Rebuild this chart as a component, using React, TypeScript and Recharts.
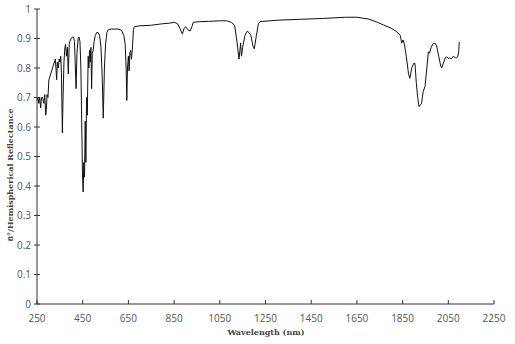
import React from "react";
import { LineChart, Line, XAxis, YAxis } from "recharts";

const wavelengths = [
  250, 254, 258, 262, 266, 270, 275, 280, 284, 288, 291, 294, 298, 302, 310, 318, 326, 330, 333, 336,
  339, 343, 347, 351, 354, 357, 361, 364, 368, 372, 375, 379, 383, 387, 391, 394, 400, 405, 410, 414,
  418, 421, 425, 430, 434, 438, 442, 446, 449, 452, 455, 458, 461, 464, 467, 470, 474, 477, 480, 483,
  486, 489, 492, 496, 500, 505, 511, 518, 524, 530, 535, 540, 545, 550, 556, 562, 575, 590, 605, 620,
  630, 636, 640, 643, 646, 650, 653, 656, 660, 663, 667, 672, 676, 700, 750, 800, 830, 850, 865, 875,
  886, 894, 901, 910, 920, 928, 934, 960, 1000, 1050, 1080, 1100, 1115, 1125, 1134, 1138, 1141, 1145, 1150, 1160,
  1170, 1178, 1186, 1195, 1201, 1210, 1219, 1226, 1300, 1400, 1500, 1600, 1650, 1700, 1740, 1766, 1800, 1824, 1840, 1846,
  1852, 1858, 1866, 1876, 1882, 1890, 1898, 1904, 1910, 1916, 1922, 1928, 1933, 1940, 1948, 1956, 1963, 1968, 1975, 1985,
  1992, 1999, 2008, 2016, 2021, 2030, 2037, 2043, 2050, 2057, 2064, 2072, 2080, 2087, 2092, 2096, 2098,
];

const reflectance = [
  0.69, 0.70, 0.68, 0.70, 0.665, 0.70, 0.70, 0.68, 0.71, 0.64, 0.66, 0.71, 0.70, 0.76, 0.78, 0.80, 0.82, 0.83, 0.80, 0.76,
  0.82, 0.80, 0.83, 0.82, 0.84, 0.78, 0.58, 0.70, 0.82, 0.87, 0.88, 0.84, 0.87, 0.78, 0.88, 0.89, 0.90, 0.905, 0.905, 0.89,
  0.80, 0.73, 0.85, 0.90, 0.905, 0.89, 0.80, 0.60, 0.44, 0.38, 0.48, 0.43, 0.62, 0.48, 0.70, 0.64, 0.84, 0.80, 0.86, 0.82,
  0.87, 0.73, 0.85, 0.86, 0.89, 0.91, 0.92, 0.92, 0.91, 0.87, 0.78, 0.63, 0.80, 0.88, 0.92, 0.93, 0.932, 0.932, 0.932, 0.928,
  0.91, 0.88, 0.80, 0.69, 0.80, 0.84, 0.79, 0.85, 0.86, 0.83, 0.86, 0.93, 0.94, 0.943, 0.945, 0.95, 0.952, 0.955, 0.95, 0.935,
  0.915, 0.935, 0.94, 0.93, 0.925, 0.94, 0.955, 0.957, 0.958, 0.96, 0.96, 0.955, 0.945, 0.89, 0.83, 0.86, 0.885, 0.84, 0.87, 0.91,
  0.925, 0.92, 0.91, 0.875, 0.865, 0.91, 0.95, 0.957, 0.962, 0.965, 0.968, 0.972, 0.972, 0.966, 0.955, 0.946, 0.935, 0.923, 0.91, 0.885,
  0.895, 0.88, 0.84, 0.78, 0.765, 0.80, 0.815, 0.816, 0.75, 0.70, 0.669, 0.675, 0.68, 0.72, 0.737, 0.80, 0.855, 0.85, 0.87, 0.884,
  0.884, 0.875, 0.84, 0.81, 0.80, 0.82, 0.835, 0.838, 0.832, 0.834, 0.832, 0.84, 0.835, 0.835, 0.84, 0.86, 0.888,
];

const xTicks = [250, 450, 650, 850, 1050, 1250, 1450, 1650, 1850, 2050, 2250];
const yTicks = [0, 0.1, 0.2, 0.3, 0.4, 0.5, 0.6, 0.7, 0.8, 0.9, 1];

const data = wavelengths.map((w, i) => ({ wavelength: w, value: reflectance[i] }));

const tickFont = { fontFamily: "'Open Sans', sans-serif", fontSize: 10, fill: "#555" };

function XTick({ x, y, payload }: any) {
  return (
    <g>
      <line x1={x} x2={x} y1={y - 4} y2={y} stroke="#333" />
      <text x={x} y={y + 18} textAnchor="middle" {...tickFont}>
        {payload.value}
      </text>
    </g>
  );
}

function YTick({ x, y, payload }: any) {
  const v = payload.value;
  const label = v === 0 ? "0" : v === 1 ? "1" : v.toFixed(1);
  return (
    <g>
      <line x1={x - 3} x2={x + 3} y1={y} y2={y} stroke="#333" />
      <text x={x - 6} y={y + 3.5} textAnchor="end" {...tickFont}>
        {label}
      </text>
    </g>
  );
}

export default function App() {
  return (
    <div style={{ position: "absolute", left: 0, top: 0, background: "#fff" }}>
      <LineChart width={515} height={344} data={data} margin={{ top: 9, right: 21, bottom: 0, left: 0 }}>
        <XAxis
          dataKey="wavelength"
          type="number"
          domain={[250, 2250]}
          ticks={xTicks}
          height={40}
          tickSize={0}
          tickMargin={0}
          tickLine={false}
          stroke="#333"
          tick={<XTick />}
          interval={0}
        />
        <YAxis
          type="number"
          domain={[0, 1]}
          ticks={yTicks}
          width={37}
          tickSize={0}
          tickMargin={0}
          tickLine={false}
          stroke="#333"
          tick={<YTick />}
          interval={0}
        />
        <Line
          type="linear"
          dataKey="value"
          stroke="#111"
          strokeWidth={1}
          dot={false}
          isAnimationActive={false}
        />
        <text
          x={266}
          y={335}
          textAnchor="middle"
          fontFamily="'DejaVu Serif', serif"
          fontWeight="bold"
          fontSize={8}
          fill="#444"
        >
          Wavelength (nm)
        </text>
        <text
          x={13}
          y={175}
          textAnchor="middle"
          transform="rotate(-90 13 175)"
          fontFamily="'DejaVu Serif', serif"
          fontWeight="bold"
          fontSize={8}
          fill="#444"
        >
          8°/Hemispherical Reflectance
        </text>
      </LineChart>
    </div>
  );
}
